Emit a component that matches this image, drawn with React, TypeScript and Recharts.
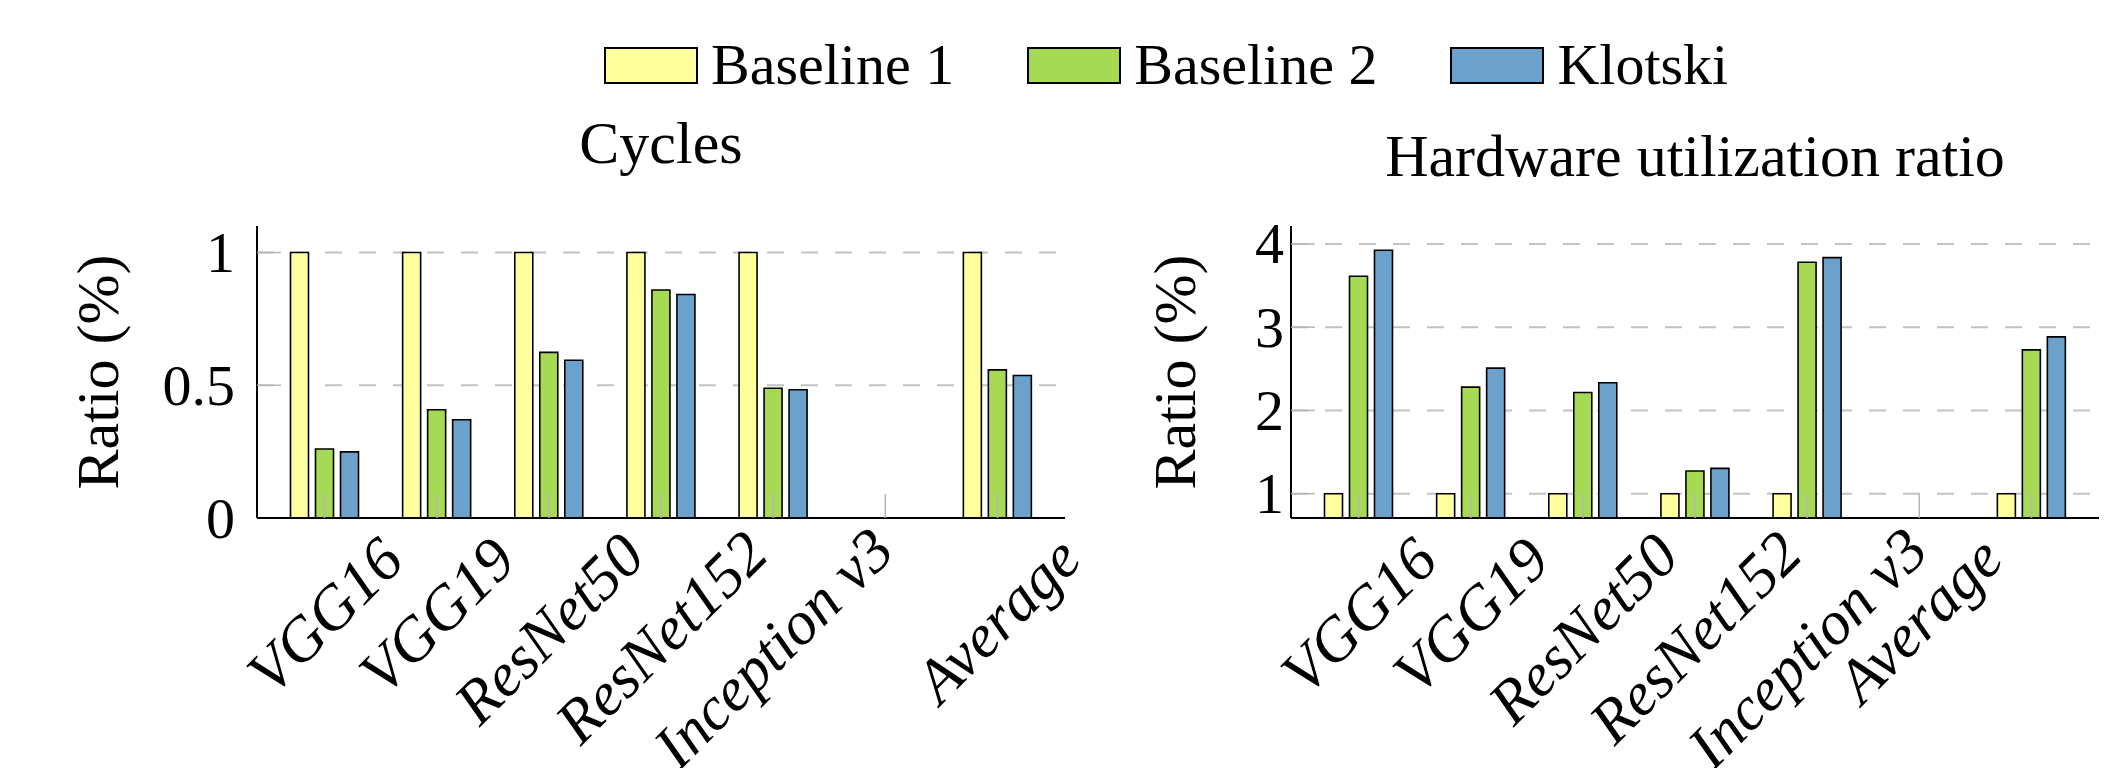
import React from "react";
import { BarChart, Bar, XAxis, YAxis, CartesianGrid, Label } from "recharts";

// categories (slot 6 is an empty gap in both panels)
const models = ["VGG16", "VGG19", "ResNet50", "ResNet152", "Inception v3", "", "Average"];
// the right panel's tick labels are shifted by one at the end
const hwTickLabels = ["VGG16", "VGG19", "ResNet50", "ResNet152", "Inception v3", "Average", ""];

const cyclesBaseline1 = [1, 1, 1, 1, 1, null, 1];
const cyclesBaseline2 = [0.26, 0.408, 0.624, 0.859, 0.489, null, 0.558];
const cyclesKlotski = [0.249, 0.37, 0.594, 0.842, 0.483, null, 0.537];

const hwBaseline1 = [1, 1, 1, 1, 1, null, 1];
const hwBaseline2 = [3.612, 2.28, 2.216, 1.272, 3.78, null, 2.728];
const hwKlotski = [3.924, 2.508, 2.332, 1.304, 3.836, null, 2.884];

const cyclesTicks = [0, 0.5, 1];
const hwTicks = [1, 2, 3, 4];

const series = [
  { key: "b1", name: "Baseline 1", color: "#FFFF9E" },
  { key: "b2", name: "Baseline 2", color: "#A6DA55" },
  { key: "k", name: "Klotski", color: "#6BA1CA" },
];

const cyclesData = models.map((name, i) => ({
  name,
  b1: cyclesBaseline1[i],
  b2: cyclesBaseline2[i],
  k: cyclesKlotski[i],
}));

const hwData = models.map((name, i) => ({
  name,
  b1: hwBaseline1[i],
  b2: hwBaseline2[i],
  k: hwKlotski[i],
}));

const FONT = '"Liberation Serif", "Times New Roman", serif';
const TICK_GRAY = "#b5b5b5";
const XFS = 62;

let ctx: CanvasRenderingContext2D | null = null;
function textWidth(s: string, font: string) {
  if (!ctx) ctx = document.createElement("canvas").getContext("2d");
  if (!ctx) return s.length * 30;
  ctx.font = font;
  return ctx.measureText(s).width;
}

const makeXTick = (labels: string[]) => (props: any) => {
  const { x, y, index } = props;
  const label = labels[index] ?? "";
  const w = textWidth(label, `italic ${XFS}px ${FONT}`);
  // top of the rotated label sits ~35px under the axis
  const cy = y + 35 + 0.27 * (w + 0.68 * XFS);
  return (
    <g>
      <line x1={x} x2={x} y1={y} y2={y - 24} stroke={TICK_GRAY} strokeWidth={1.5} />
      {label && (
        <text
          x={x}
          y={cy}
          textAnchor="middle"
          dominantBaseline="central"
          transform={`rotate(-45 ${x} ${cy})`}
          fontFamily={FONT}
          fontStyle="italic"
          fontSize={XFS}
          fill="#000"
        >
          {label}
        </text>
      )}
    </g>
  );
};

const makeYTick = (gap: number) => (props: any) => {
  const { x, y, payload } = props;
  return (
    <g>
      {payload.value !== 0 && (
        <line x1={x} x2={x + 24} y1={y} y2={y} stroke={TICK_GRAY} strokeWidth={1.5} />
      )}
      <text
        x={x - gap}
        y={y}
        textAnchor="end"
        dominantBaseline="central"
        fontFamily={FONT}
        fontSize={58}
        fill="#000"
      >
        {String(payload.value)}
      </text>
    </g>
  );
};

const yLabel = (offset: number) => (props: any) => {
  const vb = props.viewBox || { x: 0, y: 0, width: 0, height: 0 };
  const cx = vb.x + vb.width - offset;
  const cy = vb.y + vb.height / 2;
  return (
    <text
      x={cx}
      y={cy}
      transform={`rotate(-90 ${cx} ${cy})`}
      textAnchor="middle"
      dominantBaseline="central"
      fontFamily={FONT}
      fontSize={60}
      fill="#000"
    >
      Ratio (%)
    </text>
  );
};

function Panel(props: {
  data: any[];
  width: number;
  margin: any;
  domain: [number, number];
  ticks: number[];
  tickLabels: string[];
  tickGap: number;
  labelOffset: number;
}) {
  const { data, width, margin, domain, ticks, tickLabels, tickGap, labelOffset } = props;
  return (
    <BarChart width={width} height={768} data={data} margin={margin} barSize={18} barGap={7}>
      <CartesianGrid
        vertical={false}
        horizontalValues={ticks}
        stroke="#c2c2c2"
        strokeWidth={2}
        strokeDasharray="17 17"
      />
      <XAxis
        dataKey="name"
        interval={0}
        tickLine={false}
        tickSize={0}
        tickMargin={0}
        height={40}
        padding={{ left: 11.5, right: 11.5 }}
        axisLine={{ stroke: "#000", strokeWidth: 2 }}
        tick={makeXTick(tickLabels)}
      />
      <YAxis
        type="number"
        domain={domain}
        ticks={ticks}
        allowDataOverflow
        interval={0}
        width={40}
        tickLine={false}
        tickSize={0}
        tickMargin={0}
        axisLine={{ stroke: "#000", strokeWidth: 2 }}
        tick={makeYTick(tickGap)}
      >
        <Label content={yLabel(labelOffset)} />
      </YAxis>
      {series.map((s) => (
        <Bar
          key={s.key}
          dataKey={s.key}
          name={s.name}
          fill={s.color}
          stroke="#000"
          strokeWidth={1.6}
          isAnimationActive={false}
        />
      ))}
    </BarChart>
  );
}

export default function App() {
  return (
    <div
      style={{
        position: "absolute",
        left: 0,
        top: 0,
        width: 2125,
        height: 768,
        background: "#fff",
        overflow: "hidden",
        fontFamily: FONT,
      }}
    >
      {/* legend */}
      <div
        style={{
          position: "absolute",
          left: 604,
          top: 36,
          height: 58,
          display: "flex",
          alignItems: "center",
          fontSize: 58,
          lineHeight: "58px",
          whiteSpace: "nowrap",
        }}
      >
        {series.map((s, i) => (
          <div
            key={s.key}
            style={{ display: "flex", alignItems: "center", marginRight: i < series.length - 1 ? 73 : 0 }}
          >
            <span
              style={{
                display: "inline-block",
                width: 90,
                height: 33,
                background: s.color,
                border: "2px solid #000",
                marginRight: 13,
              }}
            />
            <span>{s.name}</span>
          </div>
        ))}
      </div>

      {/* titles */}
      <div
        style={{
          position: "absolute",
          left: 161,
          width: 1000,
          top: 113,
          textAlign: "center",
          fontSize: 60,
          lineHeight: "60px",
        }}
      >
        Cycles
      </div>
      <div
        style={{
          position: "absolute",
          left: 1195,
          width: 1000,
          top: 126,
          textAlign: "center",
          fontSize: 60,
          lineHeight: "60px",
        }}
      >
        Hardware utilization ratio
      </div>

      <div style={{ position: "absolute", left: 1080, top: 0 }}>
        <Panel
          data={hwData}
          width={1045}
          margin={{ top: 226, right: 26, bottom: 210, left: 171 }}
          domain={[0.708, 4.216]}
          ticks={hwTicks}
          tickLabels={hwTickLabels}
          tickGap={7}
          labelOffset={116}
        />
      </div>
      <div style={{ position: "absolute", left: 0, top: 0 }}>
        <Panel
          data={cyclesData}
          width={1140}
          margin={{ top: 226, right: 75, bottom: 210, left: 217 }}
          domain={[0, 1.1]}
          ticks={cyclesTicks}
          tickLabels={models}
          tickGap={22}
          labelOffset={159}
        />
      </div>
    </div>
  );
}
